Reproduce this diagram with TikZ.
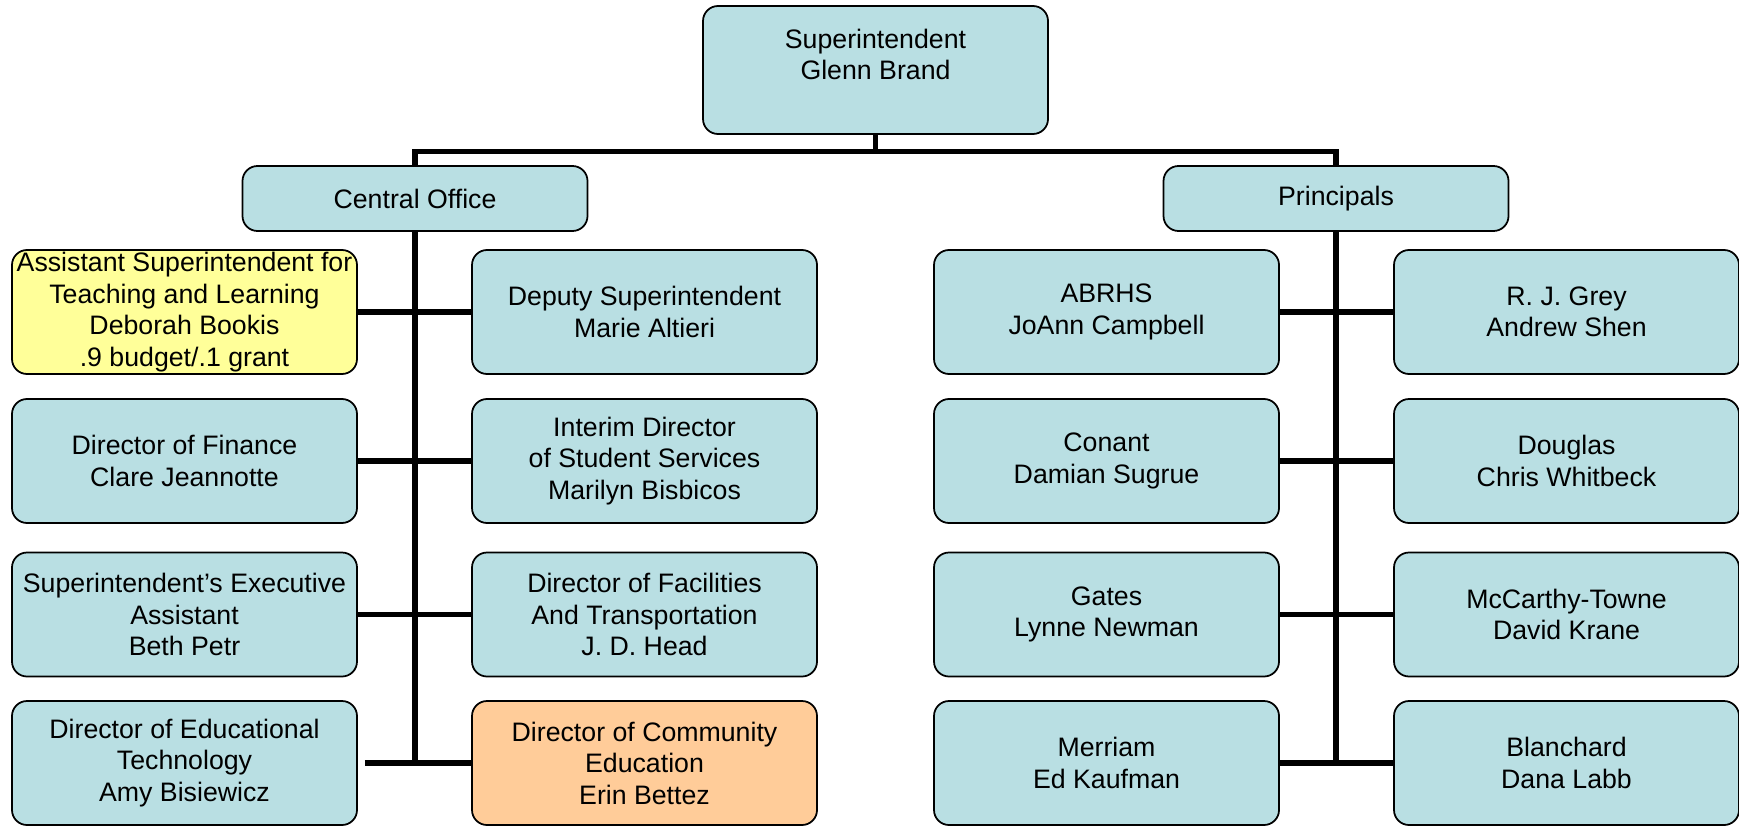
\documentclass[tikz,border=0pt]{standalone}
\usepackage{fontspec}
\setmainfont{Liberation Sans}
\definecolor{unitblue}{RGB}{185,223,227}
\definecolor{unityellow}{RGB}{255,255,153}
\definecolor{unitorange}{RGB}{255,204,153}
\begin{document}
\begin{tikzpicture}[font=\fontsize{7.6}{8.95}\selectfont,
        unit/.style={draw=black, line width=0.5pt, fill=unitblue, rounded corners=0.15cm,
            align=center, minimum width=3.45cm, minimum height=1.24cm, inner sep=0pt},
        head/.style={unit, minimum height=0.65cm},
        link/.style={line width=1.45pt}]
    \useasboundingbox (0,0) rectangle (17.39,8.25);

    % top levels
    \node[unit, minimum height=1.28cm] (sup) at (8.755,7.55) {Superintendent\\Glenn Brand\\~};
    \node[head] (central) at (4.15,6.265) {Central Office};
    \node[head] (principals) at (13.36,6.265) {Principals};

    % central office
    \node[unit, fill=unityellow] (asst) at (1.845,5.13) {Assistant Superintendent for\\Teaching and Learning\\Deborah Bookis\\.9 budget/.1 grant};
    \node[unit] (deputy) at (6.445,5.13) {Deputy Superintendent\\Marie Altieri};
    \node[unit] (finance) at (1.845,3.64) {Director of Finance\\Clare Jeannotte};
    \node[unit] (student) at (6.445,3.64) {Interim Director\\of Student Services\\Marilyn Bisbicos};
    \node[unit] (exec) at (1.845,2.105) {Superintendent’s Executive\\Assistant\\Beth Petr};
    \node[unit] (facilities) at (6.445,2.105) {Director of Facilities\\And Transportation\\J. D. Head};
    \node[unit] (edtech) at (1.845,0.62) {Director of Educational\\Technology\\Amy Bisiewicz};
    \node[unit, fill=unitorange] (community) at (6.445,0.62) {Director of Community\\Education\\Erin Bettez};

    % principals
    \node[unit] (abrhs) at (11.065,5.13) {ABRHS\\JoAnn Campbell};
    \node[unit] (grey) at (15.665,5.13) {R. J. Grey\\Andrew Shen};
    \node[unit] (conant) at (11.065,3.64) {Conant\\Damian Sugrue};
    \node[unit] (douglas) at (15.665,3.64) {Douglas\\Chris Whitbeck};
    \node[unit] (gates) at (11.065,2.105) {Gates\\Lynne Newman};
    \node[unit] (mccarthy) at (15.665,2.105) {McCarthy-Towne\\David Krane};
    \node[unit] (merriam) at (11.065,0.62) {Merriam\\Ed Kaufman};
    \node[unit] (blanchard) at (15.665,0.62) {Blanchard\\Dana Labb};

    % connectors
    \draw[link] (sup.south) -- ++(0,-0.165) coordinate (bus);
    \draw[link] (central.north) |- (bus) -| (principals.north);

    \draw[link] (central.south) -- (central.south |- edtech.east);
    \draw[link] (asst.east) -- (deputy.west);
    \draw[link] (finance.east) -- (student.west);
    \draw[link] (exec.east) -- (facilities.west);
    \draw[link, shorten <=0.07cm] (edtech.east) -- (community.west);

    \draw[link] (principals.south) -- (principals.south |- merriam.east);
    \draw[link] (abrhs.east) -- (grey.west);
    \draw[link] (conant.east) -- (douglas.west);
    \draw[link] (gates.east) -- (mccarthy.west);
    \draw[link] (merriam.east) -- (blanchard.west);
\end{tikzpicture}
\end{document}
